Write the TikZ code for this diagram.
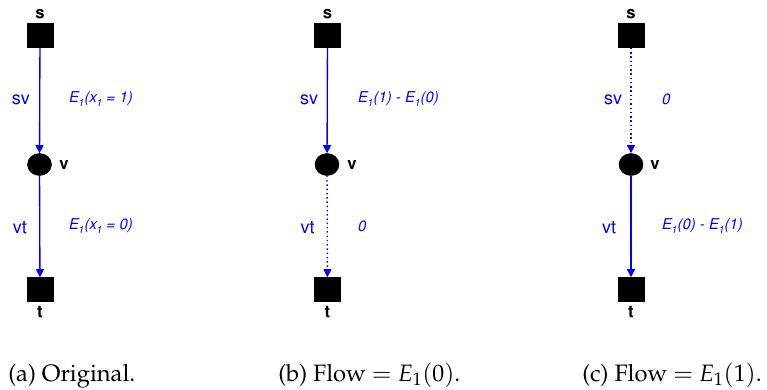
\documentclass[tikz,border=0pt]{standalone}
\usepackage[T1]{fontenc}
\usepackage{mathpazo}
\usepackage{helvet}
\usetikzlibrary{shapes.geometric,arrows.meta}
\newcommand\lsub[1]{\raisebox{-0.45ex}{\fontsize{7.5}{8}\selectfont #1}}
\tikzset{
  term/.style={draw=black,fill=black,rectangle,minimum width=19.5pt,minimum height=18pt,inner sep=0pt},
  mid/.style={draw=black,fill=black,ellipse,minimum width=18pt,minimum height=16.5pt,inner sep=0pt},
  nlab/.style={font=\fontfamily{phv}\bfseries\fontsize{12.5}{14}\selectfont,inner sep=0pt},
  elab/.style={text=blue,font=\fontfamily{phv}\fontsize{13.5}{15}\selectfont,inner sep=0pt},
  flab/.style={text=blue,font=\fontfamily{phv}\itshape\fontsize{11.2}{13}\selectfont,inner sep=0pt,anchor=west},
  flow/.style={draw=blue,line width=1pt,-{Triangle[length=6pt,width=6pt]}},
  noflow/.style={draw=blue,line width=1pt,dash pattern=on 1.1pt off 2.1pt,-{Triangle[length=6pt,width=6pt]}},
  capt/.style={font=\fontsize{17.8}{20}\selectfont,inner sep=0pt,anchor=base west}
}
\begin{document}
\begin{tikzpicture}[x=0.75pt,y=-0.75pt]
\useasboundingbox (0,0) rectangle (767,389);
% ---- (a)
\node[term] (as) at (40,35.5) {};
\node[nlab] (asl) at (40,14) {s};
\node[mid] (av) at (39.5,164.5) {};
\node[nlab] (avl) at (64,165) {v};
\node[term] (at) at (40,289.5) {};
\node[nlab] (atl) at (40,312) {t};
\draw[flow] (as) -- (av);
\draw[flow] (av) -- (at);
\node[elab] (asv) at (21,100) {sv};
\node[flab] (asvf) at (68,99) {E\lsub{1}(x\lsub{1} = 1)};
\node[elab] (avt) at (20,227) {vt};
\node[flab] (avtf) at (68,226) {E\lsub{1}(x\lsub{1} = 0)};
% ---- (b)
\node[term] (bs) at (327.5,35.5) {};
\node[nlab] (bsl) at (327.5,14) {s};
\node[mid] (bv) at (327,164.5) {};
\node[nlab] (bvl) at (352,165) {v};
\node[term] (bt) at (327.5,289.5) {};
\node[nlab] (btl) at (327.5,312) {t};
\draw[flow] (bs) -- (bv);
\draw[noflow] (bv) -- (bt);
\node[elab] (bsv) at (309,100) {sv};
\node[flab] (bsvf) at (357,99) {E\lsub{1}(1) - E\lsub{1}(0)};
\node[elab] (bvt) at (307.5,227) {vt};
\node[flab] (bvtf) at (357,226) {0};
% ---- (c)
\node[term] (cs) at (631,35.5) {};
\node[nlab] (csl) at (631,14) {s};
\node[mid] (cv) at (631,164.5) {};
\node[nlab] (cvl) at (655,165) {v};
\node[term] (ct) at (631,289.5) {};
\node[nlab] (ctl) at (631,312) {t};
\draw[noflow] (cs) -- (cv);
\draw[flow] (cv) -- (ct);
\node[elab] (csv) at (613,100) {sv};
\node[flab] (csvf) at (661,99) {0};
\node[elab] (cvt) at (609,227) {vt};
\node[flab] (cvtf) at (661,226) {E\lsub{1}(0) - E\lsub{1}(1)};
% ---- captions
\node[capt] (capa) at (8,381) {(a) Original.};
\node[capt] (capb) at (278,381) {(b) Flow $=$ $E_1(0)$.};
\node[capt] (capc) at (582,381) {(c) Flow $=$ $E_1(1)$.};
\end{tikzpicture}
\end{document}
